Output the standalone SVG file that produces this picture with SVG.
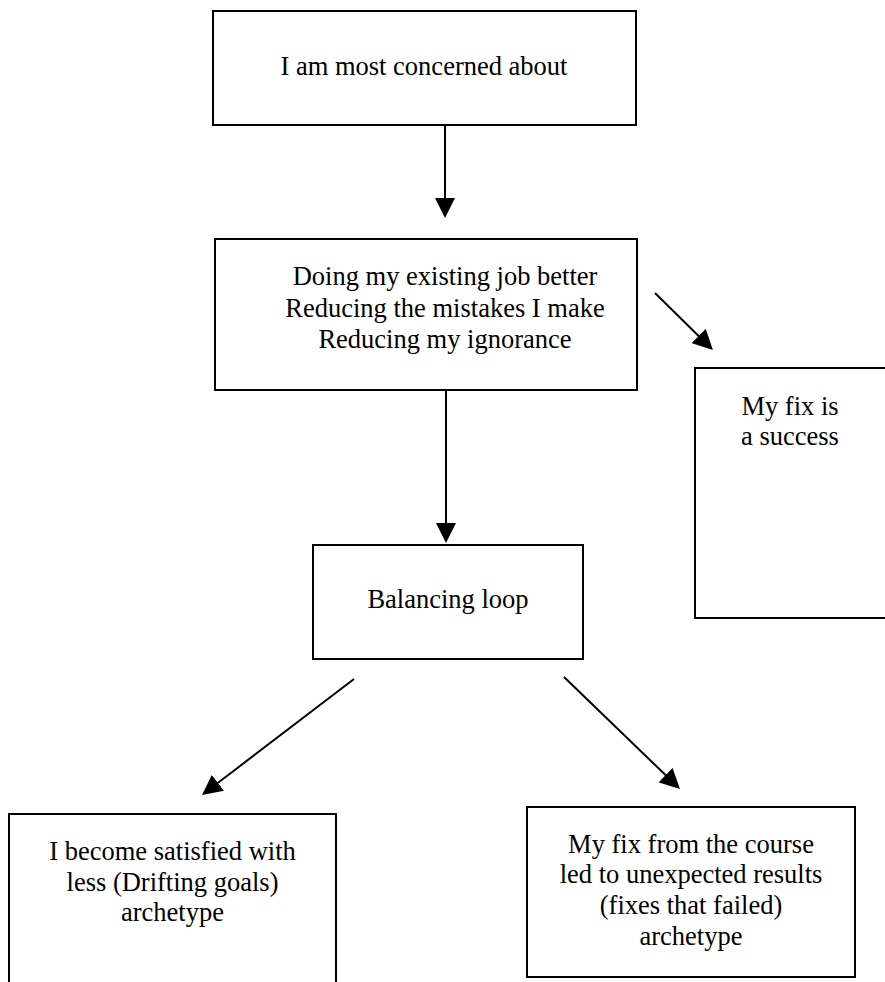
<svg xmlns="http://www.w3.org/2000/svg" width="885" height="982" viewBox="0 0 885 982">
  <style>
    .box { fill: #ffffff; stroke: #000000; stroke-width: 2; }
    .label { font-family: "Liberation Serif", "Times New Roman", serif; font-size: 26.5px; fill: #000000; text-anchor: middle; }
    .link { stroke: #000000; stroke-width: 2; fill: none; marker-end: url(#head); }
  </style>
  <defs>
    <marker id="head" markerUnits="userSpaceOnUse" markerWidth="20" markerHeight="20" refX="1" refY="10" orient="auto">
      <path d="M0,0 L20,10 L0,20 z" fill="#000000"/>
    </marker>
  </defs>

  <rect x="0" y="0" width="885" height="982" fill="#ffffff"/>

  <g id="connectors">
    <line class="link" x1="445" y1="125" x2="445" y2="199"/>
    <line class="link" x1="446" y1="390" x2="446" y2="524"/>
    <line class="link" x1="655" y1="293" x2="699.4" y2="336.7"/>
    <line class="link" x1="354" y1="679" x2="217.1" y2="783.5"/>
    <line class="link" x1="564" y1="677" x2="666.3" y2="775.8"/>
  </g>

  <g id="concern">
    <rect class="box" x="213" y="11" width="423" height="114"/>
    <text class="label" x="424" y="75">I am most concerned about</text>
  </g>

  <g id="goals">
    <rect class="box" x="215" y="239" width="422" height="151"/>
    <text class="label" x="445" y="285">Doing my existing job better</text>
    <text class="label" x="445" y="317">Reducing the mistakes I make</text>
    <text class="label" x="445" y="348">Reducing my ignorance</text>
  </g>

  <g id="balancing">
    <rect class="box" x="313" y="545" width="270" height="114"/>
    <text class="label" x="448" y="608">Balancing loop</text>
  </g>

  <g id="success">
    <rect class="box" x="695" y="368" width="200" height="250"/>
    <text class="label" x="790" y="415">My fix is</text>
    <text class="label" x="790" y="445">a success</text>
  </g>

  <g id="drifting">
    <rect class="box" x="9" y="814" width="327" height="180"/>
    <text class="label" x="172.5" y="860">I become satisfied with</text>
    <text class="label" x="172.5" y="891">less (Drifting goals)</text>
    <text class="label" x="172.5" y="921">archetype</text>
  </g>

  <g id="failed">
    <rect class="box" x="527" y="807" width="328" height="170"/>
    <text class="label" x="691" y="853">My fix from the course</text>
    <text class="label" x="691" y="883">led to unexpected results</text>
    <text class="label" x="691" y="914">(fixes that failed)</text>
    <text class="label" x="691" y="945">archetype</text>
  </g>
</svg>
